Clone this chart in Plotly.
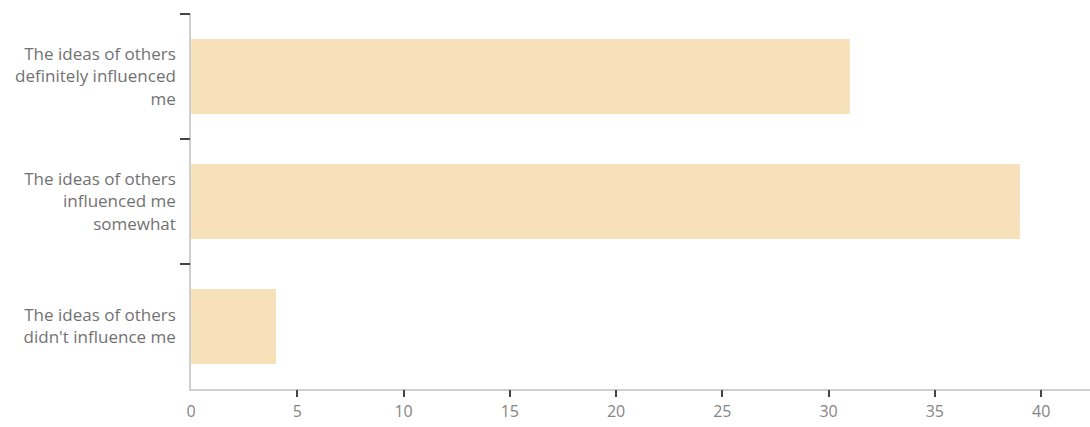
import plotly.graph_objects as go

# Survey responses: how much other people's ideas influenced the respondent
categories = [
    "The ideas of others definitely influenced me",
    "The ideas of others influenced me somewhat",
    "The ideas of others didn't influence me",
]
tick_text = [
    ["The ideas of others", "definitely influenced", "me"],
    ["The ideas of others", "influenced me", "somewhat"],
    ["The ideas of others", "didn't influence me"],
]
counts = [31, 39, 4]
x_tick_values = [0, 5, 10, 15, 20, 25, 30, 35, 40]

BAR_COLOR = "#F6E1BA"
LABEL_GREY = "#727272"
TICK_DARK = "#444444"
AXIS_GREY = "#cfcfcf"
X_MAX = 42.3

fig = go.Figure()
fig.add_trace(
    go.Bar(
        x=counts,
        y=categories,
        orientation="h",
        marker=dict(color=BAR_COLOR, line=dict(width=0)),
        hoverinfo="x+y",
    )
)
# invisible trace so the overlay axes carrying the tick marks are drawn
fig.add_trace(
    go.Scatter(
        x=[0], y=[0], xaxis="x2", yaxis="y2",
        mode="markers", marker=dict(opacity=0), hoverinfo="skip", showlegend=False,
    )
)

fig.update_layout(
    width=1090,
    height=427,
    margin=dict(l=191, r=0, t=14, b=38),
    paper_bgcolor="white",
    plot_bgcolor="white",
    showlegend=False,
    bargap=0.4,
    font=dict(family="Open Sans, sans-serif", color=LABEL_GREY),
    xaxis=dict(
        range=[0, X_MAX],
        tickvals=x_tick_values,
        ticktext=[str(v) for v in x_tick_values],
        ticks="",
        ticklabelstandoff=7,
        showgrid=False,
        zeroline=False,
        showline=True,
        linecolor=AXIS_GREY,
        linewidth=1.5,
        tickfont=dict(size=16, color="#858585"),
    ),
    xaxis2=dict(
        overlaying="x",
        side="bottom",
        range=[0, X_MAX],
        tickvals=x_tick_values[1:],
        showticklabels=False,
        ticks="outside",
        ticklen=7,
        tickwidth=1.5,
        tickcolor=TICK_DARK,
        showgrid=False,
        zeroline=False,
        showline=False,
    ),
    yaxis=dict(
        type="category",
        categoryorder="array",
        categoryarray=categories,
        range=[2.5, -0.5],
        tickvals=categories,
        ticktext=["<br>".join(t) for t in tick_text],
        ticks="",
        ticklabelstandoff=10,
        showgrid=False,
        zeroline=False,
        showline=True,
        linecolor=AXIS_GREY,
        linewidth=1.5,
        tickfont=dict(size=17, color=LABEL_GREY),
    ),
    yaxis2=dict(
        overlaying="y",
        side="left",
        range=[2.5, -0.5],
        tickvals=[-0.5, 0.5, 1.5],
        showticklabels=False,
        ticks="outside",
        ticklen=10,
        tickwidth=2,
        tickcolor=TICK_DARK,
        showgrid=False,
        zeroline=False,
        showline=False,
    ),
)

fig.write_html("out.html")
